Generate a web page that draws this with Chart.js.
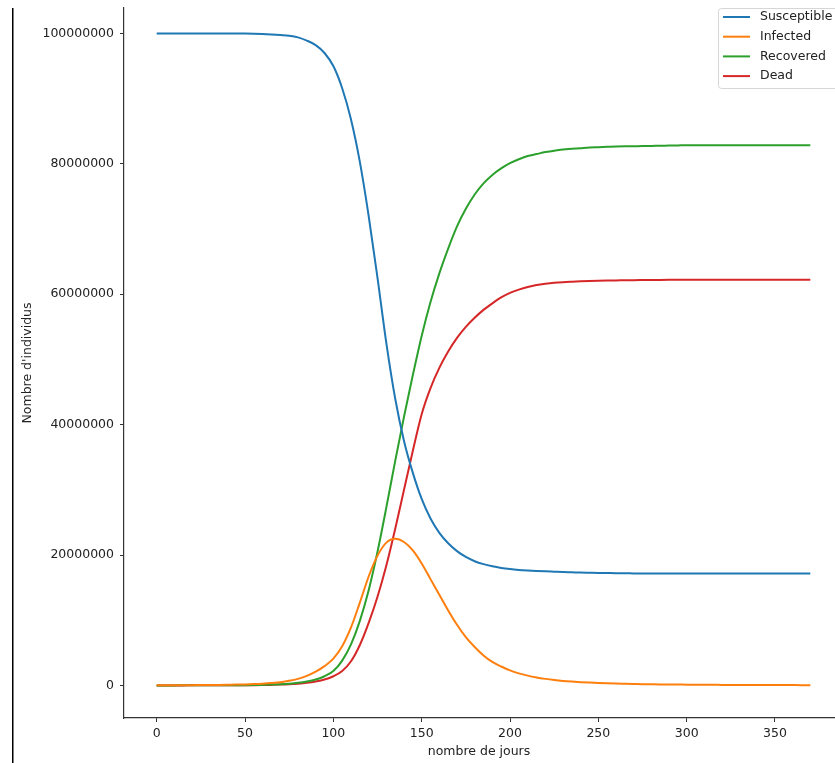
<!DOCTYPE html>
<html>
<head>
  <title>Modele SIRD</title>
  <script src="https://cdn.jsdelivr.net/npm/chart.js"></script>
  <style>
    body { margin: 0; background: #fff; }
    canvas { display: block; }
  </style>
</head>
<body>
  <canvas id="myChart" width="835" height="763"></canvas>

  <script>
    // values are in millions of people
    var MILLION = 1e6;

    var days = [0, 5, 10, 15, 20, 25, 30, 35, 40, 45, 50, 55, 60, 65, 70, 75, 80, 85, 90, 95,
      100, 105, 110, 115, 120, 125, 130, 135, 140, 145, 150, 155, 160, 165, 170, 175, 180, 185, 190, 195,
      200, 205, 210, 215, 220, 225, 230, 235, 240, 245, 250, 255, 260, 265, 270, 275, 280, 285, 290, 295,
      300, 305, 310, 315, 320, 325, 330, 335, 340, 345, 350, 355, 360, 365, 370];

    var susceptible = [100, 100, 100, 100, 100, 100, 100, 100, 100, 99.99, 99.98, 99.96, 99.92, 99.85, 99.76, 99.65, 99.4, 98.9, 98.2, 97.0,
      95.0, 91.6, 86.8, 80.3, 72.0, 62.5, 52.5, 44.0, 37.5, 32.6, 28.6, 25.6, 23.4, 21.8, 20.6, 19.7, 19.05, 18.6, 18.27, 18.02,
      17.84, 17.71, 17.62, 17.55, 17.49, 17.44, 17.39, 17.35, 17.31, 17.28, 17.25, 17.23, 17.21, 17.2, 17.18, 17.17, 17.16, 17.15, 17.15, 17.15,
      17.15, 17.15, 17.15, 17.15, 17.15, 17.15, 17.15, 17.15, 17.15, 17.15, 17.15, 17.15, 17.15, 17.15, 17.15];

    var infected = [0.02, 0.02, 0.03, 0.03, 0.04, 0.05, 0.06, 0.08, 0.1, 0.12, 0.15, 0.2, 0.27, 0.37, 0.5, 0.7, 1.0, 1.45, 2.1, 2.95,
      4.1, 6.0, 8.9, 12.7, 16.7, 19.9, 21.9, 22.5, 22.0, 20.7, 18.7, 16.3, 13.9, 11.5, 9.3, 7.4, 5.9, 4.6, 3.6, 2.9,
      2.3, 1.85, 1.5, 1.22, 1.0, 0.82, 0.68, 0.58, 0.5, 0.43, 0.37, 0.32, 0.28, 0.25, 0.22, 0.19, 0.17, 0.15, 0.14, 0.13,
      0.11, 0.1, 0.095, 0.09, 0.08, 0.075, 0.07, 0.065, 0.06, 0.055, 0.05, 0.05, 0.045, 0.04, 0.04];

    var recovered = [0, 0, 0, 0.01, 0.01, 0.01, 0.01, 0.01, 0.02, 0.02, 0.03, 0.05, 0.08, 0.12, 0.18, 0.27, 0.4, 0.6, 0.9, 1.4,
      2.2, 3.8, 6.3, 9.9, 14.6, 20.5, 27.3, 34.4, 41.2, 47.6, 53.6, 58.8, 63.2, 67.0, 70.4, 73.1, 75.3, 77.0, 78.3, 79.3,
      80.1, 80.7, 81.2, 81.5, 81.8, 82.0, 82.2, 82.3, 82.4, 82.5, 82.55, 82.6, 82.65, 82.68, 82.7, 82.72, 82.75, 82.77, 82.8, 82.82,
      82.85, 82.85, 82.85, 82.85, 82.85, 82.85, 82.85, 82.85, 82.85, 82.85, 82.85, 82.85, 82.85, 82.85, 82.85];

    var dead = [0, 0, 0, 0, 0.01, 0.01, 0.01, 0.01, 0.01, 0.01, 0.02, 0.03, 0.05, 0.08, 0.12, 0.18, 0.27, 0.4, 0.6, 0.9,
      1.4, 2.2, 3.7, 6.2, 9.6, 13.6, 18.4, 24.0, 30.0, 36.0, 41.6, 45.6, 48.7, 51.2, 53.3, 55.0, 56.4, 57.6, 58.6, 59.5,
      60.2, 60.7, 61.1, 61.4, 61.6, 61.75, 61.85, 61.92, 61.98, 62.03, 62.07, 62.1, 62.12, 62.14, 62.16, 62.17, 62.18, 62.19, 62.2, 62.21,
      62.22, 62.22, 62.22, 62.22, 62.22, 62.22, 62.22, 62.22, 62.22, 62.22, 62.22, 62.22, 62.22, 62.22, 62.22];

    var seriesNames = ['Susceptible', 'Infected', 'Recovered', 'Dead'];
    var seriesColors = ['#1f77b4', '#ff7f0e', '#2ca02c', '#d62728'];

    var xTicks = [0, 50, 100, 150, 200, 250, 300, 350];
    var yTicks = [0, 20000000, 40000000, 60000000, 80000000, 100000000];

    function toPoints(values) {
      return days.map(function (d, i) { return { x: d, y: values[i] * MILLION }; });
    }

    var series = [susceptible, infected, recovered, dead];
    var datasets = series.map(function (values, i) {
      return {
        label: seriesNames[i],
        data: toPoints(values),
        borderColor: seriesColors[i],
        backgroundColor: seriesColors[i],
        borderWidth: 2,
        pointRadius: 0,
        fill: false,
        cubicInterpolationMode: 'monotone'
      };
    });

    // matplotlib-like legend box in the upper right corner
    var boxLegend = {
      id: 'boxLegend',
      beforeDraw: function (chart) {
        var ctx = chart.ctx;
        ctx.save();
        ctx.fillStyle = '#000';
        ctx.fillRect(12, 8, 1.5, 755);
        ctx.restore();
      },
      afterDraw: function (chart) {
        var ctx = chart.ctx;
        var left = chart.chartArea.right - 116;
        var top = chart.chartArea.top + 0.5;
        ctx.save();
        ctx.beginPath();
        ctx.roundRect(left + 0.5, top, 140, 80, 3);
        ctx.fillStyle = 'rgba(255,255,255,0.8)';
        ctx.fill();
        ctx.strokeStyle = '#d6d6d6';
        ctx.lineWidth = 1;
        ctx.stroke();
        ctx.font = '12.5px "DejaVu Sans"';
        ctx.textBaseline = 'middle';
        chart.data.datasets.forEach(function (ds, i) {
          var y = top + 8.5 + i * 19.7;
          ctx.beginPath();
          ctx.moveTo(left + 5, y);
          ctx.lineTo(left + 32, y);
          ctx.strokeStyle = ds.borderColor;
          ctx.lineWidth = 2;
          ctx.stroke();
          ctx.fillStyle = '#222';
          ctx.fillText(ds.label, left + 42, y);
        });
        ctx.restore();
      }
    };

    Chart.defaults.font.family = '"DejaVu Sans", sans-serif';
    Chart.defaults.font.size = 12.5;
    Chart.defaults.color = '#222';

    var ctx = document.getElementById('myChart').getContext('2d');
    var myChart = new Chart(ctx, {
      type: 'line',
      data: { datasets: datasets },
      options: {
        responsive: false,
        animation: false,
        layout: { padding: { top: 8, right: 1, left: 0, bottom: 0 } },
        plugins: {
          legend: { display: false },
          tooltip: { enabled: false }
        },
        scales: {
          x: {
            type: 'linear',
            min: -18.5,
            max: 383.4,
            afterBuildTicks: function (scale) {
              scale.ticks = xTicks.map(function (v) { return { value: v }; });
            },
            afterFit: function (scale) {
              scale.height = 45;
              scale.paddingLeft = 0;
              scale.paddingRight = 0;
            },
            border: { color: '#333', width: 1.2 },
            grid: { drawOnChartArea: false, tickLength: 4, color: '#333' },
            ticks: { padding: 4, maxRotation: 0, color: '#222' },
            title: {
              display: true,
              text: 'nombre de jours',
              color: '#222',
              padding: { top: 0, bottom: 3.5 }
            }
          },
          y: {
            type: 'linear',
            min: -5000000,
            max: 103900000,
            afterBuildTicks: function (scale) {
              scale.ticks = yTicks.map(function (v) { return { value: v }; });
            },
            afterFit: function (scale) {
              scale.width = 124;
              scale.paddingTop = 0;
              scale.paddingBottom = 0;
            },
            border: { color: '#333', width: 1.2 },
            grid: { drawOnChartArea: false, tickLength: 4, color: '#333' },
            ticks: {
              padding: 6,
              color: '#222',
              callback: function (v) { return v.toFixed(0); }
            },
            title: {
              display: true,
              text: "Nombre d'individus",
              color: '#222',
              padding: { top: 20.5, bottom: 0 }
            }
          }
        }
      },
      plugins: [boxLegend]
    });
  </script>
</body>
</html>
